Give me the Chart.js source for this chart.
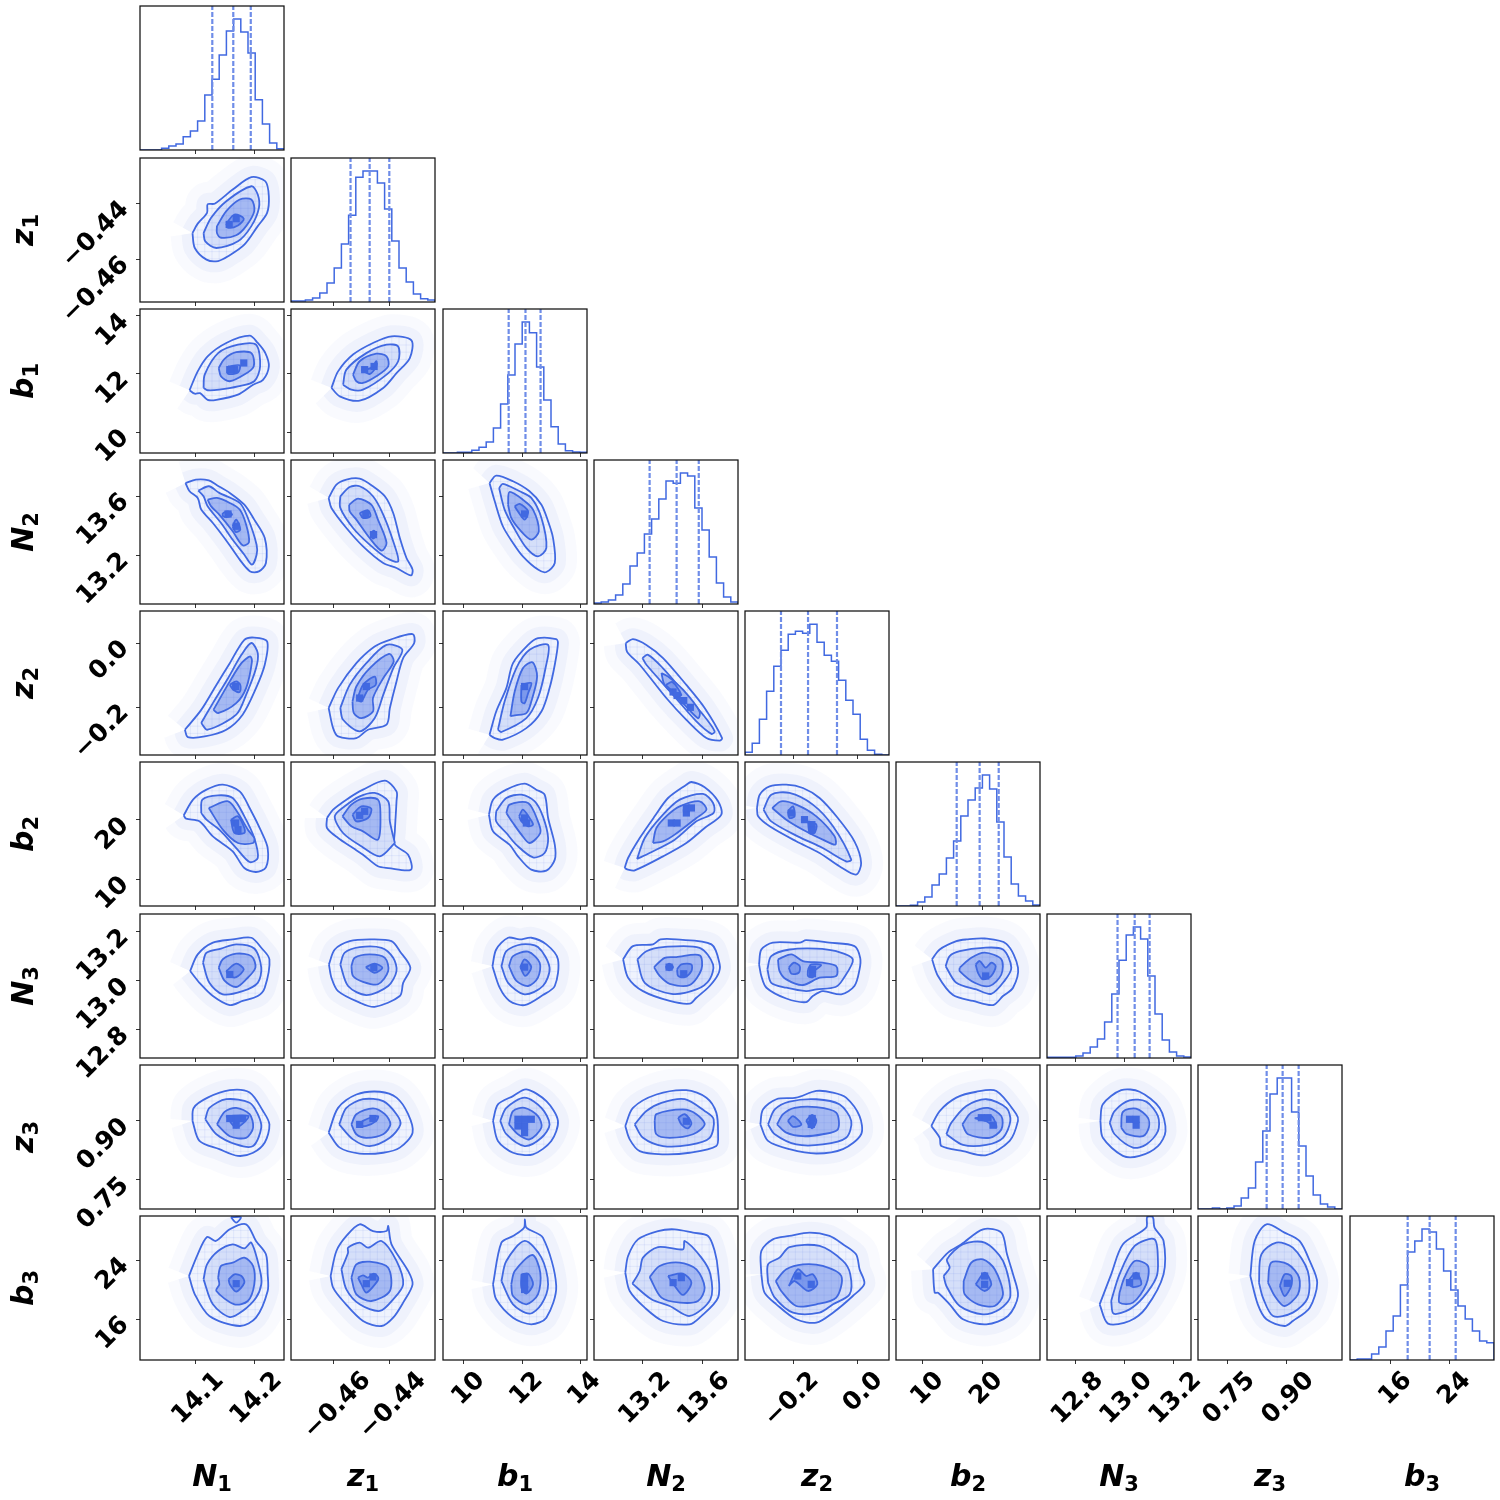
<!DOCTYPE html>
<html>
<head>
<meta charset="utf-8">
<title>Corner plot</title>
<script src="https://cdn.jsdelivr.net/npm/chart.js@4"></script>
<style>
body { margin: 0; background: #fff; }
canvas { position: absolute; }
.axis-name {
    position: absolute;
    font: italic bold 30px/1 'DejaVu Sans';
    color: #000;
    white-space: nowrap;
}
.axis-name sub { font-size: 0.7em; font-style: normal; line-height: 0; vertical-align: -0.22em; }
</style>
</head>
<body>
<script>
const paramSymbols = ['N', 'z', 'b', 'N', 'z', 'b', 'N', 'z', 'b'];
const paramIndex = [1, 1, 1, 2, 2, 2, 3, 3, 3];
const axisMin = [14.004, -0.4755, 9.276, 12.868, -0.35, 5.424, 12.684, 0.676, 10.441];
const axisMax = [14.251, -0.4235, 14.241, 13.844, 0.10, 29.83, 13.272, 1.042, 29.966];
const tickValues = [[14.1, 14.2], [-0.46, -0.44], [10, 12, 14], [13.2, 13.6], [-0.2, 0], [10, 20], [12.8, 13.0, 13.2], [0.75, 0.90], [16, 24]];
const tickLabels = [['14.1', '14.2'], ['−0.46', '−0.44'], ['10', '12', '14'], ['13.2', '13.6'], ['−0.2', '0.0'], ['10', '20'], ['12.8', '13.0', '13.2'], ['0.75', '0.90'], ['16', '24']];
const labelShift = [24, 33, 17, 24, 22, 17, 24, 24, 17];

const histN1 = [0, 0, 0, 5, 12, 18, 40, 57, 87, 165, 212, 285, 357, 393, 354, 291, 151, 78, 21, 4];
const histZ1 = [3, 3, 6, 12, 27, 57, 102, 174, 260, 374, 393, 393, 357, 279, 183, 102, 60, 24, 10, 6];
const histB1 = [0, 0, 2, 2, 8, 17, 33, 75, 147, 234, 327, 393, 361, 258, 159, 79, 27, 7, 3, 2];
const histN2 = [3, 6, 12, 27, 60, 114, 153, 210, 255, 315, 369, 362, 393, 384, 288, 222, 141, 63, 21, 6];
const histZ2 = [8, 35, 107, 191, 266, 314, 362, 371, 365, 392, 338, 299, 281, 224, 164, 122, 47, 14, 2, 0];
const histB2 = [0, 0, 2, 12, 27, 63, 96, 144, 195, 270, 318, 354, 393, 351, 252, 147, 66, 30, 15, 3];
const histN3 = [2, 2, 2, 2, 6, 15, 33, 57, 108, 192, 293, 369, 393, 357, 246, 132, 54, 18, 6, 3];
const histZ3 = [0, 0, 3, 0, 3, 9, 33, 63, 141, 234, 345, 393, 393, 291, 189, 99, 42, 15, 6, 0];
const histB3 = [0, 3, 3, 18, 39, 87, 132, 225, 324, 357, 393, 384, 333, 267, 210, 162, 123, 87, 57, 52];
const histograms = [histN1, histZ1, histB1, histN2, histZ2, histB2, histN3, histZ3, histB3];
const histTop = 432;

const quantiles = [
    [14.128, 14.164, 14.194], [-0.454, -0.4471, -0.44], [11.54, 12.12, 12.64],
    [13.245, 13.428, 13.578], [-0.2375, -0.153, -0.0625], [15.71, 19.6, 22.83],
    [12.972, 13.042, 13.103], [0.8505, 0.8911, 0.9318], [18.26, 21.24, 24.77],
];

// each polygon: contour level, then x,y pairs
const contours = {
    '1,0': [
        [0, 14.094,-.4506, 14.103,-.4472, 14.119,-.4433, 14.120,-.4402, 14.132,-.44, 14.163,-.4349, 14.195,-.4304, 14.219,-.4319, 14.225,-.4373, 14.222,-.4433, 14.206,-.4481, 14.183,-.4548, 14.155,-.459, 14.138,-.4607, 14.118,-.4602, 14.098,-.456],
        [1, 14.113,-.4506, 14.126,-.4451, 14.152,-.4391, 14.195,-.4337, 14.206,-.4367, 14.208,-.4415, 14.195,-.4481, 14.172,-.4536, 14.135,-.456, 14.116,-.4536],
        [2, 14.136,-.4481, 14.152,-.4427, 14.175,-.4385, 14.195,-.4385, 14.2,-.4427, 14.186,-.4481, 14.169,-.4514, 14.143,-.4523, 14.136,-.4506],
        [3, 14.152,-.4472, 14.166,-.4439, 14.182,-.4454, 14.172,-.4479, 14.155,-.4487],
    ],
    '2,0': [
        [0, 14.089,11.44, 14.103,12.09, 14.12,12.61, 14.152,13.07, 14.192,13.32, 14.206,13.07, 14.219,12.72, 14.225,12.26, 14.215,11.8, 14.198,11.63, 14.172,11.29, 14.135,11.11, 14.12,11.11, 14.107,11.34, 14.098,11.32],
        [1, 14.113,11.52, 14.115,11.98, 14.138,12.72, 14.172,13.01, 14.203,13.01, 14.21,12.26, 14.2,11.75, 14.172,11.57, 14.14,11.46, 14.12,11.44],
        [2, 14.139,12.21, 14.149,12.52, 14.169,12.75, 14.195,12.72, 14.199,12.26, 14.183,11.98, 14.158,11.75, 14.143,11.92],
        [3, 14.155,12.26, 14.175,12.3, 14.172,12.05, 14.155,12.01],
    ],
    '2,1': [
        [0, -.4609,11.52, -.4585,12.09, -.4531,12.67, -.4459,13.07, -.4392,13.3, -.432,13.16, -.4326,12.55, -.4374,12.03, -.4422,11.52, -.4507,11.08, -.4579,11.23],
        [1, -.4567,11.63, -.4555,12.15, -.4483,12.72, -.441,13.01, -.4368,12.95, -.4368,12.44, -.441,11.98, -.4495,11.46, -.4537,11.46],
        [2, -.4531,11.98, -.4507,12.44, -.4447,12.7, -.441,12.61, -.4404,12.26, -.4447,11.92, -.4495,11.69, -.4519,11.75],
        [3, -.4501,12.15, -.4465,12.21, -.4447,12.44, -.4447,12.26, -.4471,12.0],
    ],
    '3,0': [
        [0, 14.082,13.688, 14.1,13.711, 14.122,13.706, 14.136,13.673, 14.158,13.621, 14.183,13.541, 14.2,13.44, 14.218,13.315, 14.22,13.146, 14.208,13.089, 14.193,13.089, 14.175,13.169, 14.155,13.282, 14.129,13.417, 14.109,13.508, 14.103,13.587, 14.089,13.632],
        [1, 14.104,13.636, 14.122,13.666, 14.14,13.621, 14.175,13.553, 14.189,13.451, 14.204,13.27, 14.204,13.202, 14.196,13.135, 14.183,13.202, 14.163,13.304, 14.143,13.417, 14.12,13.53, 14.113,13.598],
        [2, 14.12,13.575, 14.136,13.587, 14.158,13.553, 14.175,13.508, 14.186,13.406, 14.191,13.288, 14.18,13.266, 14.163,13.361, 14.14,13.474, 14.126,13.53],
        [3, 14.146,13.485, 14.155,13.496, 14.162,13.474, 14.155,13.458, 14.146,13.465],
        [3, 14.163,13.395, 14.169,13.44, 14.176,13.372, 14.168,13.356],
    ],
    '3,1': [
        [0, -.4619,13.587, -.4591,13.677, -.4555,13.711, -.4507,13.718, -.4459,13.666, -.4416,13.598, -.4386,13.485, -.4362,13.315, -.4338,13.18, -.4316,13.101, -.4322,13.062, -.4374,13.112, -.4422,13.146, -.4495,13.259, -.4555,13.383, -.4609,13.519],
        [1, -.4577,13.598, -.4543,13.661, -.4507,13.666, -.4459,13.598, -.4422,13.474, -.4386,13.293, -.4368,13.157, -.441,13.18, -.4471,13.27, -.4531,13.383, -.4577,13.519],
        [2, -.4545,13.541, -.4513,13.582, -.4465,13.541, -.4441,13.44, -.441,13.282, -.4428,13.23, -.4471,13.315, -.4519,13.44, -.4543,13.496],
        [3, -.4507,13.485, -.4477,13.503, -.4468,13.462, -.4495,13.451],
        [3, -.4468,13.343, -.4456,13.365, -.4447,13.338, -.4459,13.311],
    ],
    '3,2': [
        [0, 10.88,13.688, 11.11,13.738, 11.69,13.70, 12.26,13.632, 12.67,13.541, 12.9,13.428, 13.07,13.315, 13.13,13.146, 12.84,13.085, 12.55,13.101, 12.03,13.191, 11.69,13.282, 11.34,13.395, 11.06,13.564],
        [1, 11.21,13.654, 11.34,13.682, 11.92,13.632, 12.32,13.587, 12.67,13.451, 12.84,13.248, 12.55,13.191, 12.15,13.248, 11.69,13.395, 11.4,13.508],
        [2, 11.52,13.541, 11.57,13.627, 12.03,13.575, 12.38,13.508, 12.58,13.361, 12.32,13.304, 11.92,13.372, 11.63,13.451],
        [3, 11.75,13.53, 11.92,13.546, 12.21,13.496, 12.09,13.44, 11.86,13.496],
    ],
    '4,0': [
        [0, 14.081,-.271, 14.109,-.209, 14.135,-.131, 14.158,-.063, 14.183,.01, 14.2,.017, 14.222,.005, 14.218,-.068, 14.203,-.141, 14.18,-.224, 14.152,-.271, 14.115,-.292, 14.086,-.294],
        [1, 14.109,-.25, 14.129,-.188, 14.155,-.11, 14.178,-.037, 14.195,0, 14.206,-.032, 14.203,-.079, 14.186,-.162, 14.169,-.224, 14.12,-.271],
        [2, 14.13,-.209, 14.158,-.12, 14.178,-.063, 14.193,-.042, 14.196,-.058, 14.186,-.141, 14.169,-.188, 14.138,-.219],
        [3, 14.158,-.131, 14.169,-.12, 14.176,-.131, 14.175,-.153, 14.164,-.146],
    ],
    '4,1': [
        [0, -.4619,-.203, -.4585,-.141, -.4519,-.063, -.4453,-.011, -.4398,.01, -.4316,.028, -.431,0, -.435,-.047, -.4374,-.12, -.4398,-.203, -.441,-.255, -.4477,-.271, -.4519,-.297, -.4585,-.292, -.4603,-.266],
        [1, -.4577,-.203, -.4543,-.131, -.4483,-.063, -.441,-.006, -.4353,-.021, -.4386,-.079, -.4422,-.162, -.4453,-.235, -.4507,-.276, -.4567,-.24],
        [2, -.4533,-.183, -.4519,-.136, -.4471,-.079, -.4401,-.034, -.4384,-.058, -.4422,-.11, -.4459,-.172, -.4459,-.214, -.4501,-.235, -.4528,-.219],
        [3, -.4516,-.177, -.4495,-.131, -.4453,-.105, -.4449,-.131, -.4477,-.146, -.4501,-.183],
    ],
    '4,2': [
        [0, 10.88,-.287, 11.11,-.214, 11.46,-.141, 11.69,-.063, 12.21,-.006, 12.55,.015, 13.18,.012, 13.24,0, 13.13,-.068, 12.95,-.141, 12.67,-.214, 12.15,-.266, 11.34,-.302, 11.06,-.297],
        [1, 11.17,-.271, 11.4,-.183, 11.8,-.079, 12.26,-.021, 12.9,-.006, 12.81,-.079, 12.55,-.172, 12.15,-.235, 11.29,-.278],
        [2, 11.6,-.229, 11.75,-.151, 12.03,-.079, 12.36,-.06, 12.52,-.105, 12.32,-.183, 12.15,-.219, 11.75,-.226],
        [3, 11.98,-.131, 12.32,-.125, 12.21,-.157, 12.09,-.188, 11.98,-.183],
    ],
    '4,3': [
        [0, 13.083,0, 13.132,.012, 13.223,-.006, 13.336,-.047, 13.494,-.131, 13.618,-.203, 13.736,-.297, 13.72,-.305, 13.63,-.297, 13.494,-.24, 13.358,-.172, 13.178,-.068, 13.092,-.027],
        [1, 13.196,-.047, 13.234,-.037, 13.336,-.079, 13.471,-.151, 13.607,-.224, 13.686,-.276, 13.664,-.284, 13.562,-.245, 13.404,-.162, 13.223,-.068],
        [2, 13.325,-.094, 13.37,-.105, 13.471,-.146, 13.584,-.214, 13.573,-.235, 13.471,-.188, 13.347,-.131],
        [3, 13.354,-.131, 13.399,-.122, 13.46,-.162, 13.431,-.164],
    ],
    '5,0': [
        [0, 14.079,20.79, 14.095,23.45, 14.118,25.14, 14.146,25.99, 14.175,24.86, 14.192,22.04, 14.212,18.08, 14.223,15.25, 14.22,11.98, 14.203,11.19, 14.183,11.86, 14.163,14.69, 14.129,17.23, 14.106,19.77, 14.083,20.23],
        [1, 14.109,21.19, 14.111,23.45, 14.138,24.18, 14.163,23.73, 14.183,20.62, 14.2,16.95, 14.206,13.56, 14.192,12.88, 14.169,15.25, 14.14,18.36, 14.118,20.06],
        [2, 14.122,22.04, 14.155,23.17, 14.172,21.19, 14.189,18.36, 14.2,16.95, 14.198,16.1, 14.172,16.1, 14.146,18.36],
        [3, 14.16,20.06, 14.172,20.62, 14.183,18.65, 14.183,17.8, 14.166,17.8],
    ],
    '5,1': [
        [0, -.4625,20.34, -.4625,18.65, -.4585,16.95, -.4531,15.25, -.4495,14.12, -.4441,12.15, -.4404,11.86, -.4322,11.58, -.4332,14.12, -.438,15.82, -.438,18.08, -.4374,23.17, -.4374,24.86, -.4416,26.67, -.4495,25.14, -.4555,23.45, -.4603,21.75],
        [1, -.438,16.1, -.4434,13.84, -.4501,15.54, -.4567,17.8, -.4597,20.62, -.4561,22.32, -.4507,24.01, -.4453,24.58, -.4404,23.17, -.4398,19.77],
        [2, -.4569,20.62, -.4537,22.6, -.4495,23.62, -.4441,23.45, -.4432,20.9, -.4441,16.67, -.4495,18.08, -.4537,18.93],
        [3, -.4533,20.9, -.4501,22.32, -.4465,21.92, -.4477,20.34, -.4519,19.77],
    ],
    '5,2': [
        [0, 10.86,20.9, 11.0,23.45, 11.46,25.14, 12.09,26.16, 12.49,25.14, 12.78,24.29, 12.9,20.34, 13.13,15.82, 13.13,13.28, 12.84,11.41, 12.32,11.58, 11.86,13.84, 11.57,15.82, 11.0,18.08],
        [1, 11.11,21.47, 11.46,23.73, 11.98,24.29, 12.44,23.17, 12.72,20.62, 12.9,16.95, 12.78,14.41, 12.38,13.67, 11.8,15.82, 11.46,17.8, 11.11,19.77],
        [2, 11.46,21.19, 11.57,22.6, 12.21,22.88, 12.55,19.77, 12.63,17.8, 12.26,16.1, 11.98,17.52, 11.69,19.49],
        [3, 11.9,20.62, 12.03,21.75, 12.26,20.34, 12.38,19.21, 12.21,18.93, 11.98,19.77],
    ],
    '5,3': [
        [0, 13.076,11.86, 13.099,13.56, 13.178,16.95, 13.279,20.62, 13.37,23.73, 13.494,25.99, 13.528,26.44, 13.618,25.54, 13.709,23.17, 13.731,20.9, 13.618,18.65, 13.494,16.1, 13.336,13.84, 13.144,11.47, 13.099,11.58],
        [1, 13.16,13.39, 13.212,16.95, 13.325,20.62, 13.449,23.45, 13.607,24.41, 13.675,22.88, 13.679,21.19, 13.562,19.77, 13.415,16.67, 13.245,14.41],
        [2, 13.268,16.1, 13.291,18.65, 13.37,20.9, 13.449,22.32, 13.584,23.17, 13.63,21.75, 13.562,20.34, 13.415,17.52, 13.336,16.39],
    ],
    '5,4': [
        [0, -.3126,22.04, -.304,24.29, -.273,25.71, -.221,25.99, -.169,25.43, -.117,23.73, -.06,20.34, -.008,16.39, .013,12.71, -.003,10.74, -.055,12.15, -.117,14.41, -.19,16.39, -.273,18.93, -.309,20.62],
        [1, -.292,21.75, -.268,24.29, -.211,24.58, -.138,22.6, -.075,18.93, -.018,13.28, -.034,12.99, -.107,15.25, -.185,17.23, -.268,19.77],
        [2, -.265,22.04, -.237,23.17, -.19,22.6, -.127,20.62, -.07,17.23, -.068,15.82, -.107,16.67, -.169,18.36, -.221,20.06],
        [3, -.216,21.47, -.2,22.32, -.195,20.62, -.211,20.34],
        [3, -.153,19.77, -.127,19.21, -.133,17.8, -.148,17.8],
    ],
    '6,0': [
        [0, 14.09,13.039, 14.103,13.107, 14.129,13.155, 14.163,13.168, 14.195,13.175, 14.212,13.134, 14.226,13.087, 14.218,12.971, 14.206,12.937, 14.18,12.917, 14.158,12.9, 14.129,12.937, 14.106,12.991],
        [1, 14.112,13.073, 14.118,13.114, 14.143,13.131, 14.169,13.148, 14.2,13.131, 14.212,13.053, 14.206,12.991, 14.18,12.957, 14.146,12.944, 14.123,12.991],
        [2, 14.139,13.053, 14.146,13.087, 14.169,13.11, 14.195,13.1, 14.202,13.053, 14.186,13.005, 14.169,12.974, 14.149,13.0],
        [3, 14.152,13.039, 14.169,13.069, 14.182,13.046, 14.169,13.014, 14.158,13.019],
    ],
    '6,1': [
        [0, -.4618,13.066, -.4597,13.127, -.4543,13.161, -.4471,13.168, -.4392,13.161, -.4362,13.12, -.4324,13.053, -.435,12.991, -.4362,12.937, -.4453,12.893, -.4507,12.91, -.4585,12.957, -.4609,13.012],
        [1, -.4577,13.066, -.4561,13.114, -.4507,13.137, -.4428,13.134, -.4386,13.093, -.4374,13.039, -.4404,12.978, -.4483,12.941, -.4549,12.978],
        [2, -.4537,13.059, -.4525,13.093, -.4471,13.107, -.4416,13.093, -.4404,13.039, -.4441,12.985, -.4495,12.995, -.4531,13.019],
        [3, -.4485,13.055, -.4453,13.069, -.4425,13.053, -.4453,13.032],
    ],
    '6,2': [
        [0, 10.98,13.059, 11.11,13.127, 11.52,13.175, 11.92,13.168, 12.32,13.175, 12.84,13.148, 13.24,13.087, 13.13,12.978, 12.72,12.941, 12.09,12.9, 11.57,12.917, 11.23,12.971],
        [1, 11.29,13.059, 11.46,13.12, 11.98,13.148, 12.55,13.137, 12.95,13.053, 12.72,12.978, 12.09,12.944, 11.52,12.991],
        [2, 11.55,13.059, 11.69,13.1, 12.21,13.118, 12.61,13.073, 12.55,13.012, 12.21,12.978, 11.8,13.0],
        [3, 11.94,13.055, 12.09,13.087, 12.32,13.055, 12.11,13.019],
    ],
    '6,3': [
        [0, 13.065,13.087, 13.132,13.141, 13.268,13.148, 13.318,13.168, 13.426,13.168, 13.664,13.148, 13.72,13.066, 13.709,13.025, 13.652,12.978, 13.562,12.93, 13.517,12.906, 13.381,12.917, 13.2,12.957, 13.099,13.012],
        [1, 13.162,13.087, 13.223,13.12, 13.336,13.137, 13.584,13.134, 13.675,13.066, 13.652,13.005, 13.562,12.964, 13.392,12.946, 13.212,12.991],
        [2, 13.275,13.055, 13.347,13.093, 13.426,13.096, 13.584,13.103, 13.596,13.046, 13.517,12.982, 13.381,12.987, 13.313,13.019],
        [3, 13.354,13.055, 13.377,13.069, 13.404,13.055, 13.377,13.042],
        [3, 13.431,13.046, 13.46,13.066, 13.528,13.066, 13.528,13.039, 13.483,13.014, 13.438,13.019],
    ],
    '6,4': [
        [0, -.306,13.066, -.299,13.127, -.263,13.155, -.179,13.155, -.159,13.165, -.086,13.155, -.008,13.141, .01,13.093, .008,13.046, -.008,12.978, -.049,12.944, -.107,12.957, -.138,12.937, -.159,12.912, -.221,12.927, -.283,12.971, -.299,13.019],
        [1, -.28,13.046, -.268,13.1, -.211,13.127, -.127,13.131, -.065,13.12, -.013,13.087, -.044,13.005, -.067,12.974, -.127,12.964, -.159,12.957, -.221,12.971, -.268,12.991],
        [2, -.247,13.087, -.205,13.107, -.169,13.08, -.107,13.073, -.065,13.059, -.065,13.019, -.117,13.012, -.169,12.982, -.221,13.005, -.242,13.039],
        [3, -.213,13.053, -.198,13.073, -.179,13.059, -.182,13.032, -.205,13.028],
        [3, -.153,13.046, -.143,13.066, -.112,13.063, -.133,13.039, -.138,13.014, -.153,13.019],
    ],
    '6,5': [
        [0, 11.53,13.087, 12.83,13.127, 15.65,13.161, 17.35,13.168, 20.45,13.172, 24.13,13.15, 26.1,13.053, 25.26,12.971, 23.56,12.937, 21.87,12.9, 18.48,12.917, 15.09,12.941, 12.54,13.019],
        [1, 13.84,13.059, 14.52,13.1, 16.22,13.12, 20.17,13.134, 23.56,13.127, 24.97,13.053, 23.84,13.0, 21.58,12.946, 19.04,12.964, 15.65,12.991],
        [2, 16.22,13.053, 18.19,13.093, 20.45,13.114, 23.28,13.087, 23.28,13.025, 21.3,12.978, 18.76,12.991, 16.22,13.039],
        [3, 18.93,13.066, 19.61,13.08, 20.62,13.053, 21.58,13.073, 22.32,13.059, 21.58,13.019, 20.17,13.005, 19.32,13.032],
    ],
    '7,0': [
        [0, 14.094,.9, 14.096,.933, 14.12,.959, 14.158,.978, 14.192,.972, 14.215,.925, 14.226,.891, 14.218,.845, 14.198,.819, 14.172,.811, 14.14,.828, 14.106,.849],
        [1, 14.116,.904, 14.123,.933, 14.152,.955, 14.192,.946, 14.206,.917, 14.212,.883, 14.198,.836, 14.169,.84, 14.135,.866],
        [2, 14.136,.891, 14.149,.923, 14.169,.933, 14.192,.917, 14.198,.883, 14.186,.857, 14.158,.861],
        [3, 14.152,.912, 14.19,.912, 14.169,.883],
    ],
    '7,1': [
        [0, -.4619,.87, -.4585,.933, -.4519,.967, -.4434,.974, -.4374,.959, -.4332,.917, -.4316,.87, -.4362,.832, -.4422,.819, -.4507,.817, -.4579,.832],
        [1, -.4581,.891, -.4555,.933, -.4495,.955, -.4422,.95, -.4374,.917, -.436,.891, -.4398,.857, -.4471,.836, -.4531,.853],
        [2, -.4537,.891, -.4519,.917, -.4459,.932, -.4416,.917, -.4396,.891, -.4422,.866, -.4483,.857, -.4519,.866],
        [3, -.4513,.887, -.4495,.9, -.4441,.912, -.4447,.9, -.4483,.887],
    ],
    '7,2': [
        [0, 11.0,.9, 11.17,.942, 11.69,.963, 12.15,.98, 12.84,.95, 13.24,.9, 13.01,.849, 12.38,.815, 11.69,.819, 11.17,.849],
        [1, 11.25,.9, 11.46,.933, 12.09,.959, 12.67,.933, 12.95,.891, 12.67,.857, 12.09,.836, 11.46,.866],
        [2, 11.55,.891, 11.69,.925, 12.09,.933, 12.55,.912, 12.67,.883, 12.26,.853, 11.86,.866],
    ],
    '7,3': [
        [0, 13.08,.887, 13.132,.933, 13.291,.967, 13.494,.978, 13.63,.959, 13.697,.921, 13.709,.866, 13.697,.836, 13.517,.819, 13.336,.815, 13.178,.823, 13.11,.853],
        [1, 13.144,.891, 13.223,.925, 13.325,.946, 13.483,.955, 13.618,.925, 13.679,.904, 13.652,.857, 13.517,.839, 13.336,.836, 13.2,.857],
        [2, 13.279,.9, 13.291,.917, 13.471,.929, 13.562,.917, 13.618,.891, 13.539,.866, 13.381,.857, 13.291,.866],
        [3, 13.438,.908, 13.483,.917, 13.528,.895, 13.505,.881, 13.46,.891],
    ],
    '7,4': [
        [0, -.302,.891, -.294,.929, -.252,.955, -.19,.959, -.127,.976, -.075,.972, -.034,.959, .008,.912, .013,.866, -.044,.828, -.127,.817, -.211,.828, -.278,.849],
        [1, -.278,.891, -.257,.929, -.211,.949, -.127,.955, -.055,.942, -.018,.9, -.034,.857, -.107,.84, -.19,.84, -.257,.866],
        [2, -.25,.891, -.231,.917, -.195,.933, -.127,.935, -.065,.921, -.06,.878, -.107,.866, -.169,.861, -.221,.87],
        [3, -.216,.9, -.2,.912, -.174,.891, -.2,.885],
        [3, -.159,.9, -.14,.915, -.127,.9, -.14,.881],
    ],
    '7,5': [
        [0, 11.41,.887, 12.83,.925, 15.65,.959, 19.04,.974, 22.43,.976, 25.82,.917, 26.1,.9, 24.69,.849, 20.74,.813, 16.78,.823, 13.11,.836, 12.83,.857],
        [1, 13.96,.866, 14.8,.895, 17.35,.938, 20.74,.955, 24.13,.933, 24.8,.9, 23.56,.857, 20.74,.839, 16.78,.839],
        [2, 16.67,.891, 18.19,.921, 21.02,.933, 23.28,.912, 23.28,.878, 21.3,.857, 17.63,.866],
        [3, 18.76,.907, 21.58,.912, 22.43,.883, 20.74,.899],
    ],
    '7,6': [
        [0, 12.902,.9, 12.912,.942, 12.987,.978, 13.062,.974, 13.144,.933, 13.168,.874, 13.137,.836, 13.062,.811, 12.994,.811, 12.912,.857],
        [1, 12.94,.895, 12.96,.925, 13.021,.952, 13.089,.949, 13.137,.912, 13.137,.874, 13.089,.84, 13.035,.832, 12.96,.866],
        [2, 12.987,.883, 12.994,.923, 13.048,.931, 13.096,.908, 13.1,.883, 13.076,.861, 13.008,.867],
    ],
    '8,0': [
        [0, 14.088,21.83, 14.103,24.77, 14.119,27.12, 14.134,26.58, 14.158,28.16, 14.186,28.84, 14.203,26.58, 14.22,24.77, 14.223,22.06, 14.223,19.8, 14.203,16.18, 14.175,15.05, 14.123,16.41, 14.098,19.35],
        [0, 14.16,29.8, 14.177,29.8, 14.169,29.06],
        [1, 14.113,21.38, 14.119,23.41, 14.138,25.22, 14.163,26.13, 14.183,25.58, 14.195,26.35, 14.21,22.51, 14.212,20.7, 14.203,18.89, 14.18,17.09, 14.158,16.27, 14.129,17.99],
        [2, 14.138,21.61, 14.143,23.19, 14.163,23.64, 14.183,24.32, 14.198,23.19, 14.2,20.7, 14.189,18.44, 14.166,17.99, 14.135,19.8, 14.14,20.7],
        [3, 14.156,21.38, 14.166,22.06, 14.178,21.83, 14.183,20.93, 14.169,19.71, 14.158,20.7],
    ],
    '8,1': [
        [0, -.4612,21.83, -.4591,25.22, -.4555,27.26, -.4507,28.84, -.4459,27.93, -.441,27.93, -.4404,28.61, -.4392,26.13, -.4332,22.51, -.4316,20.7, -.435,18.22, -.4386,16.18, -.4428,15.05, -.4495,15.73, -.4567,18.44, -.4603,20.25],
        [1, -.4573,22.74, -.4549,24.99, -.4549,25.67, -.4507,26.35, -.4477,25.67, -.4428,26.58, -.4374,23.87, -.435,20.7, -.4386,18.67, -.4434,17.09, -.4507,17.99, -.4555,20.02],
        [2, -.4537,21.61, -.4519,23.41, -.4471,23.77, -.4404,22.96, -.4398,19.8, -.4465,18.44, -.4519,19.35],
        [3, -.4513,21.61, -.4495,21.92, -.4477,21.61, -.4456,22.15, -.444,21.61, -.4447,20.93, -.4483,19.57, -.4501,20.7],
    ],
    '8,2': [
        [0, 11.0,20.7, 11.29,26.35, 11.69,27.26, 12.07,28.38, 12.1,29.5, 12.15,28.38, 12.72,27.03, 13.18,20.48, 12.84,16.18, 12.32,15.28, 11.69,16.18, 11.11,18.67],
        [1, 11.29,21.15, 11.46,23.87, 12.09,26.58, 12.67,24.32, 12.9,20.7, 12.67,17.99, 12.26,16.72, 11.69,17.99],
        [2, 11.63,20.7, 11.75,22.51, 12.36,24.68, 12.63,22.28, 12.55,19.35, 12.15,17.99, 11.69,19.12],
        [3, 11.98,22.06, 12.21,22.15, 12.38,20.7, 12.15,19.44, 11.98,20.25],
    ],
    '8,3': [
        [0, 13.08,22.28, 13.099,24.54, 13.166,26.8, 13.302,27.93, 13.415,28.16, 13.539,27.71, 13.641,27.26, 13.686,25.22, 13.709,22.51, 13.709,18.89, 13.584,16.18, 13.517,15.28, 13.336,15.73, 13.212,17.54, 13.11,19.8],
        [1, 13.128,20.79, 13.178,22.51, 13.2,24.32, 13.302,25.76, 13.471,25.45, 13.483,26.58, 13.596,24.32, 13.657,22.06, 13.657,18.67, 13.517,16.41, 13.381,17.76, 13.257,18.67],
        [2, 13.245,21.7, 13.313,23.19, 13.449,23.64, 13.562,22.74, 13.618,20.25, 13.573,18.44, 13.449,18.22, 13.325,18.89],
        [3, 13.37,21.83, 13.471,22.15, 13.528,20.93, 13.471,19.26, 13.415,20.48],
    ],
    '8,4': [
        [0, -.299,22.06, -.299,25.22, -.263,26.8, -.211,27.26, -.148,27.71, -.086,27.26, -.044,26.13, -.003,24.77, .008,22.74, .023,20.79, -.013,19.12, -.075,16.86, -.127,15.51, -.19,15.96, -.252,17.99, -.289,19.57],
        [1, -.278,20.93, -.278,23.41, -.242,24.32, -.211,25.76, -.117,25.9, -.044,23.87, -.021,22.06, -.023,19.35, -.075,17.99, -.117,16.86, -.2,16.86, -.257,18.89],
        [2, -.254,21.15, -.221,22.74, -.169,23.41, -.107,23.19, -.049,21.83, -.065,18.89, -.127,17.99, -.19,17.76, -.237,19.8],
        [3, -.213,20.48, -.185,22.74, -.159,21.83, -.138,22.06, -.124,20.7, -.153,19.8, -.195,21.15],
    ],
    '8,5': [
        [0, 11.7,22.74, 14.24,25.0, 16.5,26.13, 20.17,28.16, 23.28,27.71, 24.24,24.77, 25.26,22.06, 26.1,19.12, 24.41,16.41, 20.74,15.28, 16.78,15.96, 14.52,17.99, 12.54,19.57, 11.98,19.57],
        [1, 13.5,21.83, 14.52,22.96, 14.07,24.09, 16.78,26.13, 20.45,26.35, 23.56,23.87, 24.8,19.12, 22.99,17.31, 20.17,16.63, 16.22,17.76, 13.96,20.48],
        [2, 16.89,21.15, 18.19,23.64, 20.17,24.09, 22.15,22.74, 23.56,19.35, 22.15,17.76, 19.32,17.99, 17.06,19.35],
        [3, 18.93,20.7, 20.45,22.28, 21.58,20.7, 20.45,19.8],
    ],
    '8,6': [
        [0, 12.899,17.99, 12.946,22.06, 12.994,26.13, 13.089,28.38, 13.093,29.83, 13.116,29.83, 13.123,28.38, 13.16,26.58, 13.16,22.06, 13.089,17.54, 13.021,15.73, 12.933,15.37],
        [1, 12.946,18.44, 12.98,22.06, 13.042,25.9, 13.123,26.8, 13.137,23.87, 13.13,21.6, 13.076,18.89, 13.021,17.31, 12.956,16.72],
        [2, 12.98,19.57, 13.0,21.61, 13.042,23.87, 13.096,23.19, 13.089,20.7, 13.035,18.22, 12.98,18.22],
        [3, 13.01,20.93, 13.048,22.28, 13.069,20.7, 13.035,20.34],
    ],
    '8,7': [
        [0, .809,21.83, .82,26.58, .85,28.84, .896,27.71, .934,26.58, .96,23.87, .979,20.93, .96,17.54, .917,15.73, .896,15.05, .85,15.96, .828,17.99],
        [1, .831,20.93, .837,24.77, .875,26.35, .917,25.67, .955,22.51, .955,18.89, .917,16.86, .867,16.41, .841,18.89],
        [2, .854,20.93, .862,23.64, .905,23.41, .933,21.61, .93,19.35, .896,17.76, .871,19.12],
        [3, .884,20.48, .896,22.06, .913,21.83, .913,20.48, .896,19.12],
    ],
};

// densest histogram cells in each panel
const peaks = {
    '1,0': [[14.169, -0.4454], [14.157, -0.4475]],
    '2,0': [[14.166, 12.15], [14.158, 12.15], [14.182, 12.38]],
    '2,1': [[-0.4489, 12.15], [-0.4455, 12.26]],
    '3,0': [[14.169, 13.395], [14.155, 13.478]],
    '3,1': [[-0.4485, 13.474], [-0.4457, 13.338]],
    '3,2': [[12.09, 13.478]],
    '4,0': [[14.168, -0.136]],
    '4,1': [[-0.4483, -0.136], [-0.4507, -0.172]],
    '4,2': [[12.09, -0.136]],
    '4,3': [[13.476, -0.18], [13.521, -0.201], [13.404, -0.153], [13.431, -0.164]],
    '5,0': [[14.168, 19.49], [14.172, 18.36]],
    '5,1': [[-0.4507, 20.79], [-0.4489, 21.47]],
    '5,2': [[12.09, 20.34], [12.15, 19.49]],
    '5,3': [[13.494, 21.19], [13.494, 22.04], [13.392, 19.49], [13.431, 19.49], [13.528, 22.04]],
    '5,4': [[-0.205, 21.19], [-0.141, 19.21], [-0.141, 18.36], [-0.164, 20.06]],
    '6,0': [[14.158, 13.025]],
    '6,1': [[-0.4456, 13.053]],
    '6,2': [[12.09, 13.055]],
    '6,3': [[13.476, 13.028], [13.377, 13.055]],
    '6,4': [[-0.139, 13.046], [-0.139, 13.028]],
    '6,5': [[20.62, 13.019]],
    '7,0': [[14.158, 0.906], [14.169, 0.906], [14.18, 0.906], [14.169, 0.889]],
    '7,1': [[-0.4507, 0.891], [-0.4459, 0.906]],
    '7,2': [[11.86, 0.904], [12.09, 0.904], [12.32, 0.904], [12.09, 0.887], [11.86, 0.887], [12.09, 0.87]],
    '7,3': [[13.494, 0.899]],
    '7,4': [[-0.14, 0.906], [-0.143, 0.891]],
    '7,5': [[19.89, 0.908], [21.02, 0.908], [21.87, 0.889]],
    '7,6': [[13.021, 0.904], [13.048, 0.904], [13.048, 0.889]],
    '8,0': [[14.169, 20.79]],
    '8,1': [[-0.4483, 20.79], [-0.4459, 21.7]],
    '8,2': [[12.09, 21.61], [12.09, 20.7], [12.09, 20.0]],
    '8,3': [[13.404, 20.93], [13.46, 21.61]],
    '8,4': [[-0.185, 21.83], [-0.143, 20.7]],
    '8,5': [[20.45, 21.83], [20.45, 20.7]],
    '8,6': [[13.021, 20.93], [13.048, 21.83]],
    '8,7': [[0.903, 20.84]],
};

const colX = [140, 291, 443, 594, 745, 896, 1047, 1198, 1350];
const rowY = [6, 158, 309, 460, 611, 762, 914, 1065, 1216];
const levelFill = ['#eff3fd', '#d5dff9', '#a5b9f2', '#7c99ec'];
const BLUE = '#4169e1';

const panelFrame = {
    id: 'panelFrame',
    afterDraw(chart) {
        const a = chart.chartArea;
        const ctx = chart.ctx;
        ctx.save();
        ctx.strokeStyle = '#111';
        ctx.lineWidth = 1.25;
        ctx.strokeRect(a.left, a.top, a.right - a.left, a.bottom - a.top);
        ctx.restore();
    },
};

// faint histogram cell edges, only inside the outermost contour
const cellGrid = {
    id: 'cellGrid',
    afterDatasetsDraw(chart) {
        const outer = chart.data.datasets.findIndex((d) => d.outerLevel);
        if (outer < 0) {
            return;
        }
        const pts = chart.getDatasetMeta(outer).data;
        const a = chart.chartArea;
        const ctx = chart.ctx;
        ctx.save();
        ctx.beginPath();
        pts.forEach((p, i) => (i ? ctx.lineTo(p.x, p.y) : ctx.moveTo(p.x, p.y)));
        ctx.clip();
        ctx.strokeStyle = 'rgba(65,105,225,0.13)';
        ctx.lineWidth = 0.7;
        ctx.beginPath();
        for (let i = 1; i < 20; i++) {
            const dx = a.left + (i * 144) / 20;
            const dy = a.top + (i * 144) / 20;
            ctx.moveTo(dx, a.top);
            ctx.lineTo(dx, a.bottom);
            ctx.moveTo(a.left, dy);
            ctx.lineTo(a.right, dy);
        }
        ctx.stroke();
        ctx.restore();
    },
};

function toPoints(flat) {
    const pts = [];
    for (let i = 1; i < flat.length; i += 2) {
        pts.push({ x: flat[i], y: flat[i + 1] });
    }
    pts.push(pts[0]);
    return pts;
}

function histDatasets(c) {
    const counts = histograms[c];
    const step = (axisMax[c] - axisMin[c]) / counts.length;
    const pts = [{ x: axisMin[c], y: 0 }];
    counts.forEach((n, i) => pts.push({ x: axisMin[c] + i * step, y: n }));
    pts.push({ x: axisMax[c], y: counts[counts.length - 1] });
    pts.push({ x: axisMax[c], y: 0 });
    const sets = [{
        data: pts, showLine: true, stepped: 'before', pointRadius: 0,
        borderColor: BLUE, borderWidth: 1.5, fill: false,
    }];
    quantiles[c].forEach((q) => sets.unshift({
        data: [{ x: q, y: 0 }, { x: q, y: histTop }], showLine: true, pointRadius: 0,
        borderColor: '#6f8de8', borderWidth: 2.2, borderDash: [5, 2], fill: false,
    }));
    return sets;
}

function pairDatasets(r, c) {
    const key = r + ',' + c;
    const polys = contours[key] || [];
    const sets = [];
    if (peaks[key]) {
        sets.push({
            data: peaks[key].map((p) => ({ x: p[0], y: p[1] })),
            pointStyle: 'rect', pointRadius: 5.1, pointBorderWidth: 0,
            backgroundColor: BLUE, borderWidth: 0, showLine: false,
        });
    }
    polys.slice().reverse().forEach((poly) => {
        sets.push({
            data: toPoints(poly), showLine: true, pointRadius: 0, tension: 0.3,
            borderColor: BLUE, borderWidth: 1.8, borderJoinStyle: 'round',
            fill: 'shape', backgroundColor: levelFill[poly[0]],
            outerLevel: poly === polys[0],
        });
    });
    if (polys.length) {
        const outer = toPoints(polys[0]);
        [[22, 0.05], [44, 0.03]].forEach(([w, alpha]) => sets.push({
            data: outer, showLine: true, pointRadius: 0, fill: false, tension: 0.3,
            borderColor: 'rgba(65,105,225,' + alpha + ')', borderWidth: w, borderJoinStyle: 'round',
        }));
    }
    return sets;
}

function addPanel(r, c) {
    const bottomRow = r === 8;
    const ml = c === 0 ? 140 : bottomRow ? 110 : 10;
    const mb = bottomRow ? 1500 - (rowY[8] + 144) : c === 0 ? 60 : 10;
    const mr = bottomRow ? 40 : 3;
    const mt = 3;
    const canvas = document.createElement('canvas');
    canvas.width = ml + 144 + mr;
    canvas.height = mt + 144 + mb;
    canvas.style.left = colX[c] - ml + 'px';
    canvas.style.top = rowY[r] - mt + 'px';
    document.body.appendChild(canvas);

    const diag = r === c;
    const yParam = r;
    new Chart(canvas.getContext('2d'), {
        type: 'scatter',
        data: { datasets: diag ? histDatasets(c) : pairDatasets(r, c) },
        options: {
            responsive: false,
            animation: false,
            events: [],
            layout: { autoPadding: false, padding: { top: mt, right: mr, left: 0, bottom: 0 } },
            plugins: { legend: { display: false }, tooltip: { enabled: false } },
            scales: {
                x: {
                    type: 'linear',
                    min: axisMin[c],
                    max: axisMax[c],
                    afterBuildTicks: (s) => { s.ticks = tickValues[c].map((value) => ({ value })); },
                    afterFit: (s) => {
                        s.height = mb;
                        s.paddingLeft = s.paddingRight = s.paddingTop = s.paddingBottom = 0;
                    },
                    border: { display: false },
                    grid: { drawOnChartArea: false, drawTicks: true, tickLength: 4, tickColor: '#333', tickWidth: 1 },
                    ticks: {
                        display: bottomRow,
                        autoSkip: false,
                        minRotation: 45,
                        maxRotation: 45,
                        padding: 2,
                        labelOffset: labelShift[c],
                        color: '#000',
                        font: { family: 'DejaVu Sans', weight: 'bold', size: 25 },
                        callback: (v, i) => tickLabels[c][i],
                    },
                },
                y: {
                    type: 'linear',
                    min: diag ? 0 : axisMin[yParam],
                    max: diag ? histTop : axisMax[yParam],
                    afterBuildTicks: (s) => { s.ticks = diag ? [] : tickValues[yParam].map((value) => ({ value })); },
                    afterFit: (s) => {
                        s.width = ml;
                        s.paddingLeft = s.paddingRight = s.paddingTop = s.paddingBottom = 0;
                    },
                    border: { display: false },
                    grid: { drawOnChartArea: false, drawTicks: true, tickLength: 4, tickColor: '#333', tickWidth: 1 },
                    ticks: {
                        display: c === 0 && !diag,
                        autoSkip: false,
                        minRotation: 45,
                        maxRotation: 45,
                        padding: 11,
                        labelOffset: 2,
                        color: '#000',
                        font: { family: 'DejaVu Sans', weight: 'bold', size: 25 },
                        callback: (v, i) => (diag ? '' : tickLabels[yParam][i]),
                    },
                },
            },
        },
        plugins: [cellGrid, panelFrame],
    });
}

// axis names go in as html so the subscripts keep their real size
function addAxisName(i, left, top, rotate) {
    const name = document.createElement('div');
    name.className = 'axis-name';
    name.innerHTML = paramSymbols[i] + '<sub>' + paramIndex[i] + '</sub>';
    name.style.left = left + 'px';
    name.style.top = top + 'px';
    name.style.transform = 'translate(-50%, -50%)' + (rotate ? ' rotate(-90deg)' : '');
    document.body.appendChild(name);
}

for (let r = 0; r < 9; r++) {
    for (let c = 0; c <= r; c++) {
        addPanel(r, c);
    }
}
for (let i = 0; i < 9; i++) {
    addAxisName(i, colX[i] + 72, 1476, false);
    if (i > 0) {
        addAxisName(i, 23, rowY[i] + 72, true);
    }
}
</script>
</body>
</html>
